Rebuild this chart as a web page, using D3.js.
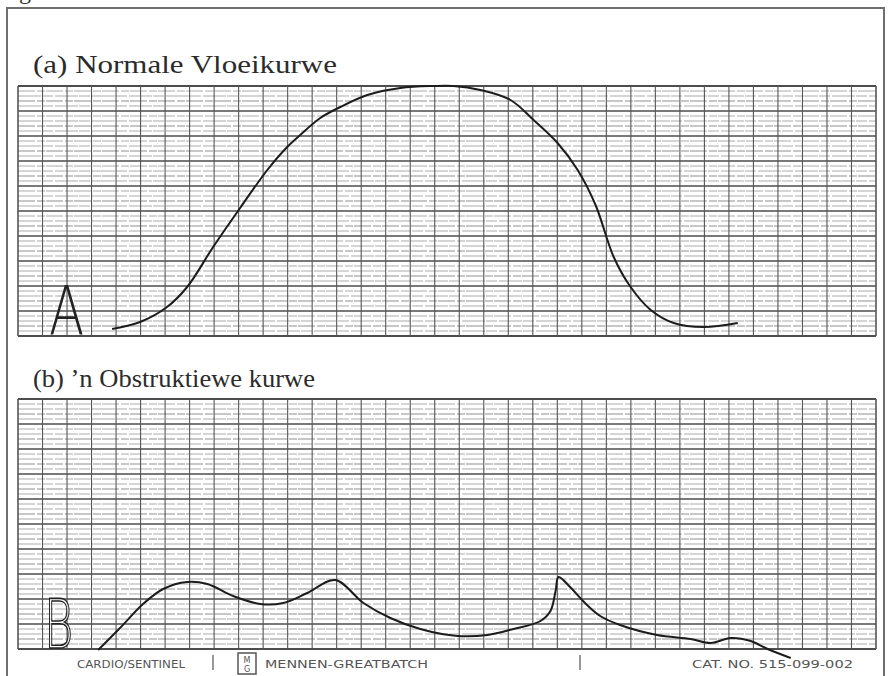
<!DOCTYPE html>
<html>
<head>
<meta charset="utf-8">
<script src="https://cdn.jsdelivr.net/npm/d3@7"></script>
<style>
  html, body { margin: 0; background: #fff; }
  svg { display: block; }
</style>
</head>
<body>
<div id="chart"></div>
<script>
// chart text
const titles = ["(a)  Normale Vloeikurwe", "(b)  \u2019n Obstruktiewe kurwe"];
const traceLetters = ["A", "B"];
const footerLabels = ["CARDIO/SENTINEL", "MENNEN-GREATBATCH", "CAT. NO.  515-099-002"];

// trace (a): time in grid columns, flow in grid rows
const normalTime = [3.84, 4.98, 6.08, 6.9, 7.96, 9.06, 10.17, 10.98, 11.51, 12.33, 13.15, 14.25, 15.6, 16.95, 17.76, 18.86, 20.09, 21.03, 22.01, 22.83, 23.56, 24.3, 24.99, 25.81, 26.75, 27.97, 29.36];
const normalFlow = [0.28, 0.56, 1.16, 1.96, 3.56, 5.12, 6.64, 7.56, 8.04, 8.72, 9.16, 9.64, 9.92, 10.0, 10.0, 9.84, 9.44, 8.64, 7.72, 6.64, 5.24, 3.16, 1.96, 1.04, 0.52, 0.36, 0.52];

// trace (b)
const obstructTime = [3.27, 4.16, 5.1, 5.92, 6.9, 7.72, 8.78, 9.88, 10.82, 11.8, 12.94, 14.09, 15.19, 16.41, 17.93, 19.15, 20.21, 21.31, 21.72, 21.93, 22.05, 22.52, 23.13, 23.75, 24.56, 26.07, 27.44, 28.26, 29.07, 29.89, 30.58, 31.52];
const obstructFlow = [-0.04, 0.84, 1.8, 2.4, 2.68, 2.6, 2.12, 1.8, 1.84, 2.24, 2.76, 1.84, 1.24, 0.8, 0.52, 0.56, 0.8, 1.12, 1.52, 2.32, 2.88, 2.48, 1.84, 1.32, 0.96, 0.56, 0.4, 0.24, 0.44, 0.32, 0.0, -0.36];

const width = 890;
const height = 676;
const gridLeft = 18;
const gridRight = 876;
const columns = 35;
const rows = 10;

const panels = [
  { title: titles[0], letter: traceLetters[0], top: 86, bottom: 336, titleY: 73, titleLen: 304,
    time: normalTime, flow: normalFlow, letterOutline: false },
  { title: titles[1], letter: traceLetters[1], top: 399, bottom: 649, titleY: 387, titleLen: 282,
    time: obstructTime, flow: obstructFlow, letterOutline: true }
];

const svg = d3.select("#chart")
  .append("svg")
  .attr("width", width)
  .attr("height", height)
  .style("background", "#fff");

// page frame and the caption cut off above it
svg.append("path")
  .attr("d", "M7,676 L7,8 L884,8 L884,676")
  .attr("fill", "none")
  .attr("stroke", "#6f6f6f")
  .attr("stroke-width", 2);

svg.append("text")
  .attr("x", -1)
  .attr("y", -1)
  .attr("font-family", "Liberation Serif")
  .attr("font-size", 24)
  .attr("fill", "#333")
  .text("Fig");

const x = d3.scaleLinear().domain([0, columns]).range([gridLeft, gridRight]);

panels.forEach((p) => {
  const y = d3.scaleLinear().domain([0, rows]).range([p.bottom, p.top]);
  const g = svg.append("g");

  // title
  g.append("text")
    .attr("x", 33)
    .attr("y", p.titleY)
    .attr("font-family", "Liberation Serif")
    .attr("font-size", 25)
    .attr("fill", "#2b2b2b")
    .attr("textLength", p.titleLen)
    .attr("lengthAdjust", "spacingAndGlyphs")
    .text(p.title);

  // fine horizontal rulings (chart paper)
  const minor = d3.range(0, rows * 5 + 1).map((i) => i / 5).filter((v) => v % 1 !== 0);
  g.append("g")
    .selectAll("line")
    .data(minor)
    .join("line")
    .attr("x1", x(0))
    .attr("x2", x(columns))
    .attr("y1", (d) => y(d))
    .attr("y2", (d) => y(d))
    .attr("stroke", (d, i) => (i % 4 === 1 ? "#8f8f8f" : "#ababab"))
    .attr("stroke-width", 1)
    .attr("stroke-dasharray", (d, i) => (i % 2 ? "17,2,8,1" : "23,1,11,2"));

  // major horizontal rulings
  g.append("g")
    .selectAll("line")
    .data(d3.range(0, rows + 1))
    .join("line")
    .attr("x1", x(0))
    .attr("x2", x(columns))
    .attr("y1", (d) => y(d))
    .attr("y2", (d) => y(d))
    .attr("stroke", "#4d4d4d")
    .attr("stroke-width", (d) => (d === 0 || d === rows ? 1.8 : 1.3));

  // vertical rulings
  g.append("g")
    .selectAll("line")
    .data(d3.range(0, columns + 1))
    .join("line")
    .attr("x1", (d) => x(d))
    .attr("x2", (d) => x(d))
    .attr("y1", y(rows))
    .attr("y2", y(0))
    .attr("stroke", "#555")
    .attr("stroke-width", (d) => (d === 0 || d === columns ? 1.6 : 1.1));

  // handwritten trace letter
  const letter = g.append("text")
    .attr("transform", `translate(${p.letterOutline ? 44 : 49},${p.bottom - 1}) scale(${p.letterOutline ? 0.68 : 0.78},1.02)`)
    .attr("font-family", "DejaVu Sans")
    .attr("font-weight", 200)
    .attr("font-size", 66)
    .text(p.letter);
  if (p.letterOutline) {
    letter.attr("fill", "#fff").attr("fill-opacity", 0.6).attr("stroke", "#222").attr("stroke-width", 1.4);
  } else {
    letter.attr("fill", "#222");
  }

  // flow trace
  const pts = p.time.map((t, i) => [t, p.flow[i]]);
  g.append("path")
    .datum(pts)
    .attr("fill", "none")
    .attr("stroke", "#1c1c1c")
    .attr("stroke-width", 2)
    .attr("stroke-linejoin", "round")
    .attr("d", d3.line()
      .x((d) => x(d[0]))
      .y((d) => y(d[1]))
      .curve(d3.curveCatmullRom.alpha(0.5)));
});

// printed footer of the recorder paper
const footer = svg.append("g")
  .attr("font-family", "DejaVu Sans")
  .attr("font-size", 10.5)
  .attr("fill", "#555");

footer.append("text").attr("x", 77).attr("y", 668)
  .attr("textLength", 108).attr("lengthAdjust", "spacingAndGlyphs")
  .text(footerLabels[0]);
footer.append("text").attr("x", 265).attr("y", 668)
  .attr("textLength", 163).attr("lengthAdjust", "spacingAndGlyphs")
  .text(footerLabels[1]);
footer.append("text").attr("x", 692).attr("y", 668)
  .attr("textLength", 161).attr("lengthAdjust", "spacingAndGlyphs")
  .text(footerLabels[2]);

footer.selectAll("line.sep")
  .data([213, 580])
  .join("line")
  .attr("x1", (d) => d).attr("x2", (d) => d)
  .attr("y1", 655).attr("y2", 670)
  .attr("stroke", "#555").attr("stroke-width", 1.2);

const logo = footer.append("g").attr("transform", "translate(238,653)");
logo.append("rect").attr("width", 18).attr("height", 21)
  .attr("fill", "#fff").attr("stroke", "#555").attr("stroke-width", 1.5);
logo.append("text").attr("x", 9).attr("y", 9.5).attr("text-anchor", "middle")
  .attr("font-size", 8).text("M");
logo.append("text").attr("x", 9).attr("y", 19).attr("text-anchor", "middle")
  .attr("font-size", 8).text("G");
</script>
</body>
</html>
